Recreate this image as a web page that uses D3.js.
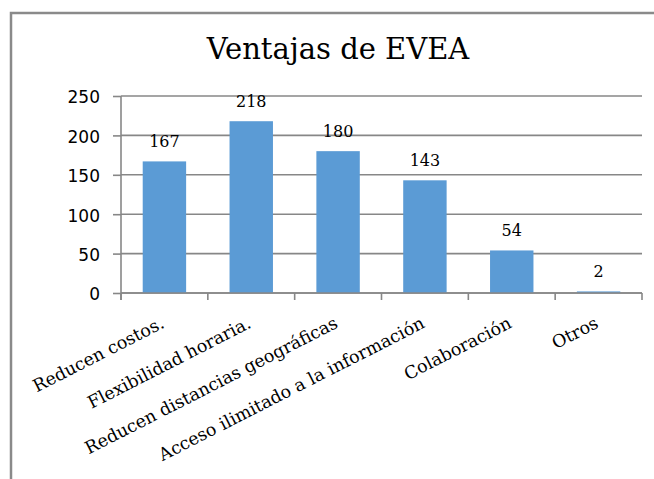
<!DOCTYPE html>
<html>
<head>
<meta charset="utf-8">
<script src="https://cdn.jsdelivr.net/npm/d3@7/dist/d3.min.js"></script>
<style>
  body { margin: 0; background: #fff; }
  svg { display: block; }
  .ytick text { font-family: "DejaVu Sans", sans-serif; font-size: 17px; fill: #000; }
  .xtick text { font-family: "DejaVu Serif", serif; font-size: 17.5px; fill: #000; }
  .serif { font-family: "DejaVu Serif", serif; }
</style>
</head>
<body>
<svg id="chart" width="654" height="479"></svg>
<script>
// values
const categories = ["Reducen costos.", "Flexibilidad horaria.", "Reducen distancias geográficas",
  "Acceso ilimitado a la información", "Colaboración", "Otros"];
const counts = [167, 218, 180, 143, 54, 2];
const yTicks = [0, 50, 100, 150, 200, 250];
const chartTitle = "Ventajas de EVEA";

const svg = d3.select("#chart");
const plotLeft = 121, plotRight = 642, plotTop = 96, plotBottom = 293;
const gray = "#878787";

// outer frame (cut by the picture on the right and bottom)
svg.append("path")
  .attr("d", "M11,490 L11,13 L670,13")
  .attr("fill", "none")
  .attr("stroke", "#8a8a8a")
  .attr("stroke-width", 2.5);

svg.append("text")
  .attr("class", "serif")
  .attr("x", 338)
  .attr("y", 59)
  .attr("text-anchor", "middle")
  .attr("font-size", 29)
  .text(chartTitle);

const x = d3.scaleBand().domain(categories).range([plotLeft, plotRight])
  .paddingInner(0.5).paddingOuter(0.25);
const y = d3.scaleLinear().domain([0, 250]).range([plotBottom, plotTop]);

// gridlines
svg.append("g")
  .selectAll("line")
  .data(yTicks)
  .enter().append("line")
  .attr("x1", plotLeft).attr("x2", plotRight)
  .attr("y1", d => y(d)).attr("y2", d => y(d))
  .attr("stroke", gray)
  .attr("stroke-width", 1.6);

// y axis
const yAxis = svg.append("g")
  .attr("class", "ytick")
  .attr("transform", "translate(" + plotLeft + ",0)")
  .call(d3.axisLeft(y).tickValues(yTicks).tickSize(8).tickPadding(13));
yAxis.select(".domain").attr("stroke", gray).attr("stroke-width", 1.6)
  .attr("d", "M0," + plotTop + "V" + (plotBottom + 7));
yAxis.selectAll(".tick line").attr("stroke", gray).attr("stroke-width", 1.6);
yAxis.selectAll(".tick text").attr("dy", "0.4em").attr("font-size", null).attr("font-family", null);
yAxis.attr("font-size", null).attr("font-family", null);

// bars
svg.append("g")
  .selectAll("rect")
  .data(counts)
  .enter().append("rect")
  .attr("x", (d, i) => x(categories[i]))
  .attr("y", d => y(d))
  .attr("width", x.bandwidth())
  .attr("height", d => plotBottom - y(d))
  .attr("fill", "#5b9bd5");

// x axis with ticks between categories
const edges = categories.map(c => x(c) - x.step() * x.paddingInner() / 2);
edges.push(plotRight);
const xAxis = svg.append("g");
xAxis.append("line")
  .attr("x1", plotLeft).attr("x2", plotRight)
  .attr("y1", plotBottom).attr("y2", plotBottom)
  .attr("stroke", gray).attr("stroke-width", 1.6);
xAxis.selectAll(".edge")
  .data(edges)
  .enter().append("line")
  .attr("class", "edge")
  .attr("x1", d => d).attr("x2", d => d)
  .attr("y1", plotBottom).attr("y2", plotBottom + 7)
  .attr("stroke", gray).attr("stroke-width", 1.6);

// category labels, rotated
svg.append("g")
  .attr("class", "xtick")
  .selectAll("text")
  .data(categories)
  .enter().append("text")
  .attr("transform", d => "translate(" + (x(d) + x.bandwidth() / 2 + 1) + "," + (plotBottom + 34) + ") rotate(-27)")
  .attr("text-anchor", "end")
  .text(d => d);

// value labels
svg.append("g")
  .selectAll("text")
  .data(counts)
  .enter().append("text")
  .attr("class", "serif")
  .attr("x", (d, i) => x(categories[i]) + x.bandwidth() / 2)
  .attr("y", d => y(d) - 14)
  .attr("text-anchor", "middle")
  .attr("font-size", 16)
  .text(d => d);
</script>
</body>
</html>
